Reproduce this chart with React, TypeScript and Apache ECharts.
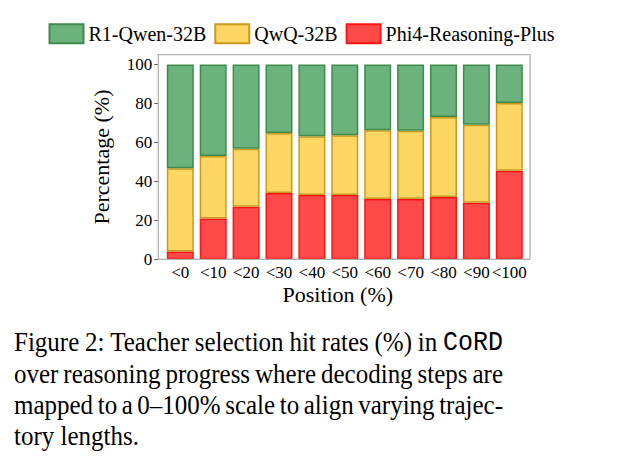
import React, { useEffect, useRef } from "react";
import * as echarts from "echarts";

const categories = ["<0", "<10", "<20", "<30", "<40", "<50", "<60", "<70", "<80", "<90", "<100"];
const phi4Values = [4, 21, 27, 34, 33, 33, 31, 31, 32, 29, 45.5];
const qwqValues = [42.7, 32, 29.7, 30.8, 30.2, 30.6, 35.2, 35, 41, 40, 34.7];
const r1Values = [53.3, 47, 43.3, 35.2, 36.8, 36.4, 33.8, 34, 27, 31, 19.8];
const yTicks = [0, 20, 40, 60, 80, 100];
const seriesNames = ["R1-Qwen-32B", "QwQ-32B", "Phi4-Reasoning-Plus"];

const captionLines: { text: string; mono?: boolean }[][] = [
  [
    { text: "Figure" }, { text: "2:" }, { text: "Teacher" }, { text: "selection" }, { text: "hit" },
    { text: "rates" }, { text: "(%)" }, { text: "in" }, { text: "CoRD", mono: true },
  ],
  [
    { text: "over" }, { text: "reasoning" }, { text: "progress" }, { text: "where" }, { text: "decoding" },
    { text: "steps" }, { text: "are" },
  ],
  [
    { text: "mapped" }, { text: "to" }, { text: "a" }, { text: "0–100%" }, { text: "scale" }, { text: "to" },
    { text: "align" }, { text: "varying" }, { text: "trajec-" },
  ],
  [{ text: "tory" }, { text: "lengths." }],
];

const SERIF = "'Liberation Serif', 'Times New Roman', Times, serif";
const MONO = "'Liberation Mono', 'Courier New', Courier, monospace";

function buildCaption() {
  const fontSize = 25;
  const sy = 1.1;
  const left = 14;
  const right = 503;
  const baselines = [352, 383.3, 414.6, 446];
  const canvas = document.createElement("canvas");
  const ctx = canvas.getContext("2d")!;
  const els: any[] = [];
  captionLines.forEach((words, li) => {
    const widths = words.map((w) => {
      ctx.font = `${fontSize}px ${w.mono ? MONO : SERIF}`;
      return ctx.measureText(w.text).width;
    });
    ctx.font = `${fontSize}px ${SERIF}`;
    const normalSpace = ctx.measureText(" ").width;
    const total = widths.reduce((a, b) => a + b, 0);
    const justify = li < captionLines.length - 1;
    const space = justify ? (right - left - total) / (words.length - 1) : normalSpace;
    let x = left;
    words.forEach((w, wi) => {
      els.push({
        type: "text",
        x,
        y: baselines[li] - fontSize * 0.35 * sy,
        scaleY: sy,
        style: {
          text: w.text,
          x: 0,
          y: 0,
          fontSize,
          fontFamily: w.mono ? MONO : SERIF,
          fill: "#000",
          textAlign: "left",
          textVerticalAlign: "middle",
        },
      });
      x += widths[wi] + space;
    });
  });
  return els;
}

export default function App() {
  const ref = useRef<HTMLDivElement>(null);
  useEffect(() => {
    if (!ref.current) return;
    const chart = echarts.init(ref.current, null, { renderer: "svg" });
    const mk = (name: string, vals: number[], fill: string, edge: string) => ({
      name,
      type: "bar",
      stack: "total",
      barWidth: 27,
      data: vals,
      itemStyle: { color: fill, borderColor: edge, borderWidth: 1.5 },
      emphasis: { disabled: true },
    });
    const frameLeft = 158.3;
    const frameTop = 54.7;
    const frameW = 371.7;
    const frameH = 204.6;
    const band = 32.9;
    const gridLeft = 180.3 - band / 2;
    chart.setOption({
      animation: false,
      backgroundColor: "#ffffff",
      textStyle: { fontFamily: SERIF },
      legend: {
        data: seriesNames,
        icon: "rect",
        left: 48.5,
        top: 23.3,
        padding: 0,
        itemWidth: 34,
        itemHeight: 19,
        itemGap: 8,
        textStyle: { fontSize: 20, fontFamily: SERIF, color: "#000" },
      },
      grid: {
        left: gridLeft,
        top: frameTop,
        width: band * categories.length,
        height: frameH,
      },
      xAxis: {
        type: "category",
        data: categories,
        name: "Position (%)",
        nameLocation: "middle",
        nameGap: 24,
        nameTextStyle: { fontSize: 22, fontFamily: SERIF, color: "#000", padding: [0, 14, 0, 0] },
        axisLine: { show: false },
        splitLine: { show: false },
        axisTick: { show: false },
        axisLabel: {
          interval: 0,
          fontSize: 17,
          fontFamily: SERIF,
          color: "#000",
          margin: 5,
        },
      },
      yAxis: {
        type: "value",
        min: 0,
        max: 105,
        offset: gridLeft - frameLeft,
        name: "Percentage (%)",
        nameLocation: "middle",
        nameGap: 46,
        nameTextStyle: { fontSize: 22, fontFamily: SERIF, color: "#000" },
        axisLine: { show: false },
        splitLine: { show: false },
        axisTick: { show: true, length: 4, customValues: yTicks, lineStyle: { color: "#555", width: 1 } },
        axisLabel: {
          customValues: yTicks,
          fontSize: 17,
          fontFamily: SERIF,
          color: "#000",
          margin: 6,
        },
      },
      series: [
        mk(seriesNames[2], phi4Values, "#ff4a4a", "#ff1414"),
        mk(seriesNames[1], qwqValues, "#fdd663", "#c99a1e"),
        mk(seriesNames[0], r1Values, "#6cb27d", "#3e8c4d"),
      ],
      graphic: [
        {
          type: "rect",
          shape: { x: frameLeft, y: frameTop, width: frameW, height: frameH },
          style: { fill: "none", stroke: "#b3b3b3", lineWidth: 1.3 },
          z: 10,
          silent: true,
        },
        ...buildCaption(),
      ],
    });
    return () => chart.dispose();
  }, []);
  return (
    <div
      ref={ref}
      style={{ position: "fixed", left: 0, top: 0, width: 638, height: 473, background: "#fff" }}
    />
  );
}
